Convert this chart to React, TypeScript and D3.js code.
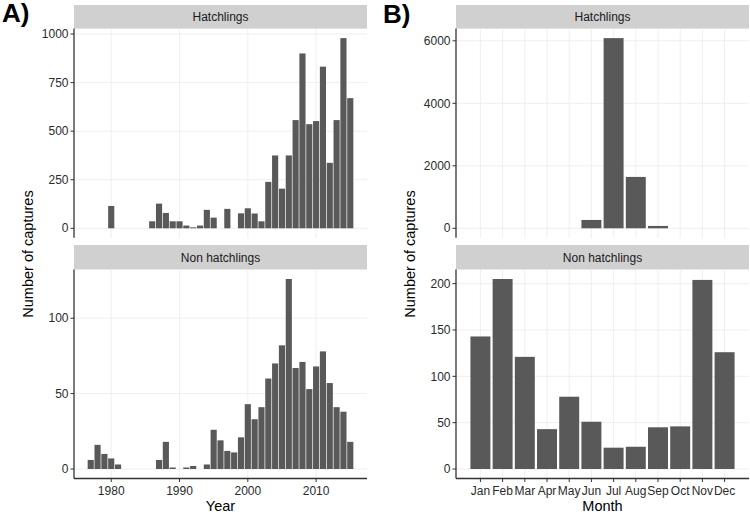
import React from "react";
import * as d3 from "d3";

// Panel A: captures per year
const hatchYears = [1980, 1986, 1987, 1988, 1989, 1990, 1991, 1992, 1993, 1994, 1995, 1997, 1999, 2000, 2001, 2002, 2003, 2004, 2005, 2006, 2007, 2008, 2009, 2010, 2011, 2012, 2013, 2014, 2015];
const hatchByYear = [115, 36, 127, 79, 36, 36, 14, 5, 14, 95, 55, 100, 77, 103, 76, 36, 239, 375, 204, 375, 557, 900, 536, 552, 832, 337, 557, 979, 670];

const nonHatchYears = [1977, 1978, 1979, 1980, 1981, 1987, 1988, 1989, 1991, 1992, 1994, 1995, 1996, 1997, 1998, 1999, 2000, 2001, 2002, 2003, 2004, 2005, 2006, 2007, 2008, 2009, 2010, 2011, 2012, 2013, 2014, 2015];
const nonHatchByYear = [6, 16, 10, 7, 3, 6, 18, 1, 1, 2, 3, 26, 19, 12, 11, 21, 43, 33, 41, 60, 70, 82, 126, 67, 71, 53, 68, 78, 57, 41, 38, 18];

const yearTicks = [1980, 1990, 2000, 2010];
const hatchYearTicks = [0, 250, 500, 750, 1000];
const nonHatchYearTicks = [0, 50, 100];

// Panel B: captures per month
const months = ["Jan", "Feb", "Mar", "Apr", "May", "Jun", "Jul", "Aug", "Sep", "Oct", "Nov", "Dec"];
const hatchByMonth = [0, 0, 0, 0, 0, 267, 6087, 1644, 75, 0, 0, 0];
const nonHatchByMonth = [143, 205, 121, 43, 78, 51, 23, 24, 45, 46, 204, 126];

const hatchMonthTicks = [0, 2000, 4000, 6000];
const nonHatchMonthTicks = [0, 50, 100, 150, 200];

// style
const barColor = "#595959";
const gridColor = "#ebebeb";
const axisColor = "#333333";
const textColor = "#2b2b2b";
const stripFill = "#d0d0d0";
const font = "'Liberation Sans', Arial, Helvetica, sans-serif";

// layout
const topPanel = { stripTop: 5, top: 28.6, bottom: 237.8 };
const bottomPanel = { stripTop: 245, top: 269.5, bottom: 478.5 };

type Bar = { x: number; w: number; v: number };

function Facet(props: {
  left: number;
  right: number;
  box: { stripTop: number; top: number; bottom: number };
  title: string;
  bars: Bar[];
  max: number;
  yTicks: number[];
  xGrid: number[];
  xAxis: boolean;
  xTicks?: { x: number; label: string }[];
}) {
  const { left, right, box, title, bars, max, yTicks, xGrid, xAxis, xTicks } = props;
  const y = d3
    .scaleLinear()
    .domain([-0.05 * max, 1.05 * max])
    .range([box.bottom, box.top]);

  return (
    <g>
      {/* strip */}
      <rect x={left} y={box.stripTop} width={right - left} height={box.top - box.stripTop} fill={stripFill} />
      <text
        x={(left + right) / 2}
        y={(box.stripTop + box.top) / 2 + 4.3}
        textAnchor="middle"
        fontSize={12}
        fill="#1a1a1a"
      >
        {title}
      </text>

      {/* grid */}
      {yTicks.map((t) => (
        <line key={"gy" + t} x1={left} x2={right} y1={y(t)} y2={y(t)} stroke={gridColor} strokeWidth={0.8} />
      ))}
      {xGrid.map((gx, i) => (
        <line key={"gx" + i} x1={gx} x2={gx} y1={box.top} y2={box.bottom} stroke={gridColor} strokeWidth={0.8} />
      ))}

      {/* bars */}
      {bars
        .filter((b) => b.v > 0)
        .map((b, i) => (
          <rect key={i} x={b.x} y={y(b.v)} width={b.w} height={y(0) - y(b.v)} fill={barColor} />
        ))}

      {/* y axis */}
      <line x1={left} x2={left} y1={box.top} y2={box.bottom} stroke={axisColor} strokeWidth={1.3} />
      {yTicks.map((t) => (
        <g key={"ty" + t}>
          <line x1={left - 3.5} x2={left} y1={y(t)} y2={y(t)} stroke={axisColor} strokeWidth={1} />
          <text x={left - 5.5} y={y(t) + 4.2} textAnchor="end" fontSize={12} fill={textColor}>
            {t}
          </text>
        </g>
      ))}

      {/* x axis */}
      {xAxis && (
        <g>
          <line x1={left} x2={right} y1={box.bottom} y2={box.bottom} stroke={axisColor} strokeWidth={1.3} />
          {(xTicks || []).map((t, i) => (
            <g key={"tx" + i}>
              <line x1={t.x} x2={t.x} y1={box.bottom} y2={box.bottom + 3.5} stroke={axisColor} strokeWidth={1} />
              <text x={t.x} y={box.bottom + 16.5} textAnchor="middle" fontSize={12} fill={textColor}>
                {t.label}
              </text>
            </g>
          ))}
        </g>
      )}
    </g>
  );
}

export default function App() {
  const width = 750;
  const height = 514;

  // Panel A x scale (continuous years, 5% expansion)
  const aLeft = 74,
    aRight = 367;
  const xA = d3.scaleLinear().domain([1974.55, 2017.45]).range([aLeft, aRight]);
  const yearBar = (yr: number, v: number): Bar => ({
    x: xA(yr - 0.45),
    w: xA(yr + 0.45) - xA(yr - 0.45),
    v,
  });

  // Panel B x scale (discrete months)
  const bLeft = 456,
    bRight = 749;
  const xB = d3.scaleBand<string>().domain(months).range([bLeft, bRight]).paddingInner(0.1).paddingOuter(0.65);
  const monthBar = (m: string, v: number): Bar => ({ x: xB(m) as number, w: xB.bandwidth(), v });
  const monthCenters = months.map((m) => (xB(m) as number) + xB.bandwidth() / 2);

  return (
    <svg width={width} height={height} style={{ display: "block", position: "absolute", left: 0, top: 0 }} fontFamily={font}>
      <rect width={width} height={height} fill="white" />

      <text x={2} y={22} fontSize={26} fontWeight="bold" fill="#000">
        A)
      </text>
      <text x={383} y={23} fontSize={26} fontWeight="bold" fill="#000">
        B)
      </text>

      {/* Panel A */}
      <Facet
        left={aLeft}
        right={aRight}
        box={topPanel}
        title="Hatchlings"
        bars={hatchYears.map((yr, i) => yearBar(yr, hatchByYear[i]))}
        max={d3.max(hatchByYear) as number}
        yTicks={hatchYearTicks}
        xGrid={yearTicks.map((t) => xA(t))}
        xAxis={false}
      />
      <Facet
        left={aLeft}
        right={aRight}
        box={bottomPanel}
        title="Non hatchlings"
        bars={nonHatchYears.map((yr, i) => yearBar(yr, nonHatchByYear[i]))}
        max={d3.max(nonHatchByYear) as number}
        yTicks={nonHatchYearTicks}
        xGrid={yearTicks.map((t) => xA(t))}
        xAxis={true}
        xTicks={yearTicks.map((t) => ({ x: xA(t), label: String(t) }))}
      />
      <text x={(aLeft + aRight) / 2} y={511} textAnchor="middle" fontSize={14.5} fill="#000">
        Year
      </text>
      <text transform={`translate(33, 254) rotate(-90)`} textAnchor="middle" fontSize={14.5} fill="#000">
        Number of captures
      </text>

      {/* Panel B */}
      <Facet
        left={bLeft}
        right={bRight}
        box={topPanel}
        title="Hatchlings"
        bars={months.map((m, i) => monthBar(m, hatchByMonth[i]))}
        max={d3.max(hatchByMonth) as number}
        yTicks={hatchMonthTicks}
        xGrid={monthCenters}
        xAxis={false}
      />
      <Facet
        left={bLeft}
        right={bRight}
        box={bottomPanel}
        title="Non hatchlings"
        bars={months.map((m, i) => monthBar(m, nonHatchByMonth[i]))}
        max={d3.max(nonHatchByMonth) as number}
        yTicks={nonHatchMonthTicks}
        xGrid={monthCenters}
        xAxis={true}
        xTicks={months.map((m, i) => ({ x: monthCenters[i], label: m }))}
      />
      <text x={(bLeft + bRight) / 2} y={511} textAnchor="middle" fontSize={14.5} fill="#000">
        Month
      </text>
      <text transform={`translate(415, 254) rotate(-90)`} textAnchor="middle" fontSize={14.5} fill="#000">
        Number of captures
      </text>
    </svg>
  );
}
